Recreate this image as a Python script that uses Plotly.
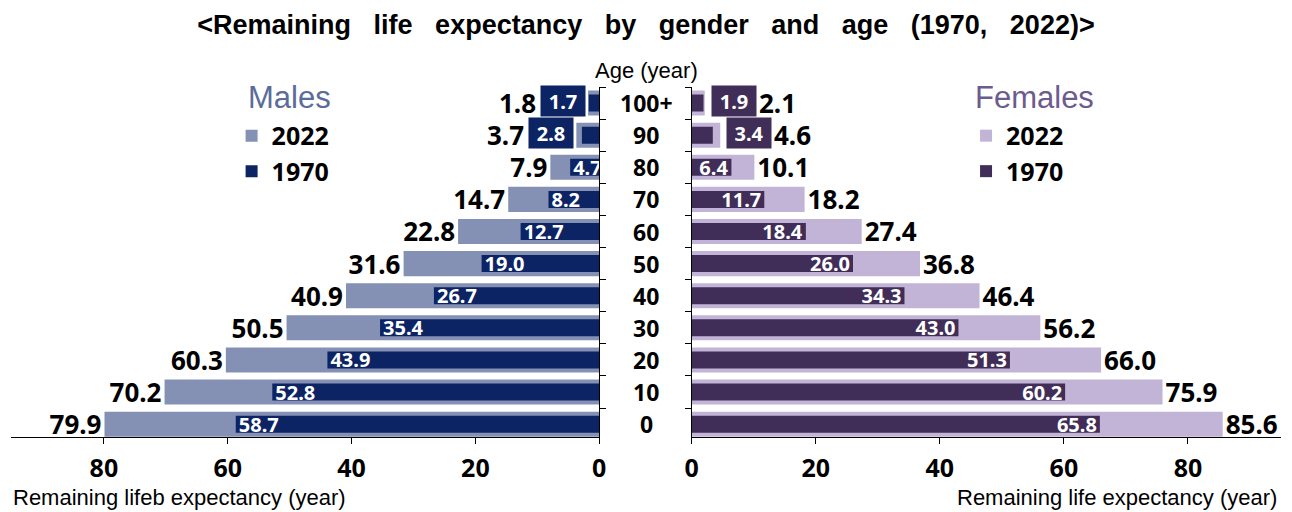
import plotly.graph_objects as go

# ---------------- data ----------------
ages = ["0", "10", "20", "30", "40", "50", "60", "70", "80", "90", "100+"]
male_2022 = [79.9, 70.2, 60.3, 50.5, 40.9, 31.6, 22.8, 14.7, 7.9, 3.7, 1.8]
male_1970 = [58.7, 52.8, 43.9, 35.4, 26.7, 19.0, 12.7, 8.2, 4.7, 2.8, 1.7]
female_2022 = [85.6, 75.9, 66.0, 56.2, 46.4, 36.8, 27.4, 18.2, 10.1, 4.6, 2.1]
female_1970 = [65.8, 60.2, 51.3, 43.0, 34.3, 26.0, 18.4, 11.7, 6.4, 3.4, 1.9]
x_ticks = [0, 20, 40, 60, 80]
outside_label_ages = ["90", "100+"]   # rows whose 1970 label sits in a box outside

# ---------------- style ----------------
C_M22, C_M70 = "#8491b4", "#0c2364"
C_F22, C_F70 = "#c2b4d6", "#402e58"
NUM_FONT = "Noto Sans, Open Sans, sans-serif"
ARIAL = "Liberation Sans, Arial, sans-serif"

def fmt(v):
    return f"{v:.1f}"

def labels(vals):
    return ["" if a in outside_label_ages else fmt(v) for a, v in zip(ages, vals)]

fig = go.Figure()

# Males
fig.add_trace(go.Bar(
    name="2022", x=male_2022, y=ages, orientation="h", xaxis="x", yaxis="y",
    marker=dict(color=C_M22, line=dict(width=0)), width=0.78,
    text=labels(male_2022), textposition="outside", constraintext="none",
    outsidetextfont=dict(family=NUM_FONT, size=26, color="black", weight="bold"),
    cliponaxis=False, legend="legend", legendgroup="m22", hoverinfo="x+y"))
fig.add_trace(go.Bar(
    name="1970", x=male_1970, y=ages, orientation="h", xaxis="x", yaxis="y",
    marker=dict(color=C_M70, line=dict(width=0)), width=0.53,
    text=labels(male_1970), textposition="inside", insidetextanchor="end",
    constraintext="none",
    insidetextfont=dict(family=NUM_FONT, size=20, color="white", weight="bold"),
    cliponaxis=False, legend="legend", legendgroup="m70", hoverinfo="x+y"))

# Females
fig.add_trace(go.Bar(
    name="2022", x=female_2022, y=ages, orientation="h", xaxis="x2", yaxis="y2",
    marker=dict(color=C_F22, line=dict(width=0)), width=0.78,
    text=labels(female_2022), textposition="outside", constraintext="none",
    outsidetextfont=dict(family=NUM_FONT, size=26, color="black", weight="bold"),
    cliponaxis=False, legend="legend2", legendgroup="f22", hoverinfo="x+y"))
fig.add_trace(go.Bar(
    name="1970", x=female_1970, y=ages, orientation="h", xaxis="x2", yaxis="y2",
    marker=dict(color=C_F70, line=dict(width=0)), width=0.53,
    text=labels(female_1970), textposition="inside", insidetextanchor="end",
    constraintext="none",
    insidetextfont=dict(family=NUM_FONT, size=20, color="white", weight="bold"),
    cliponaxis=False, legend="legend2", legendgroup="f70", hoverinfo="x+y"))

annotations = []

# boxed 1970 labels + 2022 labels for the small top rows
for i, (a, m22, m70, f22, f70) in enumerate(zip(ages, male_2022, male_1970, female_2022, female_1970)):
    if a not in outside_label_ages:
        continue
    annotations.append(dict(
        x=m22, y=i, xref="x", yref="y", text=fmt(m70), showarrow=False,
        xanchor="right", xshift=-2, yshift=2, bgcolor=C_M70, width=40, height=26,
        borderpad=2, font=dict(family=NUM_FONT, size=20, color="white", weight="bold")))
    annotations.append(dict(
        x=m22, y=i, xref="x", yref="y", text=fmt(m22), showarrow=False,
        xanchor="right", xshift=-50, font=dict(family=NUM_FONT, size=26, color="black", weight="bold")))
    annotations.append(dict(
        x=f22, y=i, xref="x2", yref="y2", text=fmt(f70), showarrow=False,
        xanchor="left", xshift=6, yshift=2, bgcolor=C_F70, width=40, height=26,
        borderpad=2, font=dict(family=NUM_FONT, size=20, color="white", weight="bold")))
    annotations.append(dict(
        x=f22, y=i, xref="x2", yref="y2", text=fmt(f22), showarrow=False,
        xanchor="left", xshift=52, font=dict(family=NUM_FONT, size=26, color="black", weight="bold")))

# central age labels
for i, a in enumerate(ages):
    annotations.append(dict(
        x=0.5, y=i, xref="paper", yref="y", text=a, showarrow=False,
        xanchor="center", font=dict(family=NUM_FONT, size=23, color="black", weight="bold")))
annotations.append(dict(
    x=0.5, y=1, xref="paper", yref="paper", text="Age (year)", showarrow=False,
    xanchor="center", yanchor="bottom", yshift=2,
    font=dict(family=ARIAL, size=22, color="black")))

# panel headings
annotations.append(dict(
    x=(240 - 4) / 1278, y=0.971, xref="paper", yref="paper", text="Males", showarrow=False,
    xanchor="left", yanchor="middle", font=dict(family=ARIAL, size=31, color="#5b6b9a")))
annotations.append(dict(
    x=(972 - 4) / 1278, y=0.971, xref="paper", yref="paper", text="Females", showarrow=False,
    xanchor="left", yanchor="middle", font=dict(family=ARIAL, size=31, color="#6b5b8e")))

# axis titles
annotations.append(dict(
    x=0, y=(437 - 497) / 350, xref="paper", yref="paper",
    text="Remaining lifeb expectancy (year)", showarrow=False, xanchor="left",
    yanchor="middle", font=dict(family=ARIAL, size=22, color="black")))
annotations.append(dict(
    x=1, y=(437 - 497) / 350, xref="paper", yref="paper",
    text="Remaining life expectancy (year)", showarrow=False, xanchor="right",
    xshift=-2, yanchor="middle", font=dict(family=ARIAL, size=22, color="black")))

axis_common = dict(
    tickvals=x_ticks, ticks="outside", ticklen=6, tickcolor="black",
    showline=True, linecolor="black", linewidth=1, showgrid=False, zeroline=False,
    tickfont=dict(family=NUM_FONT, size=25, color="black", weight="bold"),
    ticklabelstandoff=3, fixedrange=True)
yaxis_common = dict(
    type="category", categoryorder="array", categoryarray=ages,
    range=[-0.4, 10.5], showticklabels=False, ticks="outside", ticklen=6,
    tickcolor="black", tickson="boundaries", showline=True, linecolor="black",
    linewidth=1, showgrid=False, fixedrange=True)

legend_common = dict(
    bgcolor="rgba(0,0,0,0)", traceorder="normal", tracegroupgap=2,
    font=dict(family=NUM_FONT, size=25, color="black", weight="bold"),
    xanchor="left", yanchor="top", y=0.926, itemwidth=30)

fig.update_layout(
    width=1292, height=512,
    margin=dict(l=4, r=10, t=87, b=75),
    paper_bgcolor="white", plot_bgcolor="white",
    barmode="overlay",
    title=dict(
        text="&lt;Remaining\u00a0\u00a0 life\u00a0\u00a0 expectancy\u00a0\u00a0 by\u00a0\u00a0 gender\u00a0\u00a0 and\u00a0\u00a0 age\u00a0\u00a0 (1970,\u00a0\u00a0 2022)&gt;",
        x=0.5, xanchor="center", y=1 - 25 / 512, yanchor="middle", yref="container",
        font=dict(family=ARIAL, size=27, color="black", weight="bold")),
    xaxis=dict(domain=[0, 0.4632], range=[95, 0], anchor="y", **axis_common),
    yaxis=dict(domain=[0, 1], anchor="x", side="right", **yaxis_common),
    xaxis2=dict(domain=[0.536, 1], range=[0, 95], anchor="y2", **axis_common),
    yaxis2=dict(domain=[0, 1], anchor="x2", side="left", matches="y", **yaxis_common),
    legend=dict(x=0.1737, **legend_common),
    legend2=dict(x=0.752, **legend_common),
    annotations=annotations,
    showlegend=True,
)

fig.write_html("out.html", config={"displayModeBar": False},
               post_script="document.body.style.margin='0px';document.body.style.overflow='hidden';")
